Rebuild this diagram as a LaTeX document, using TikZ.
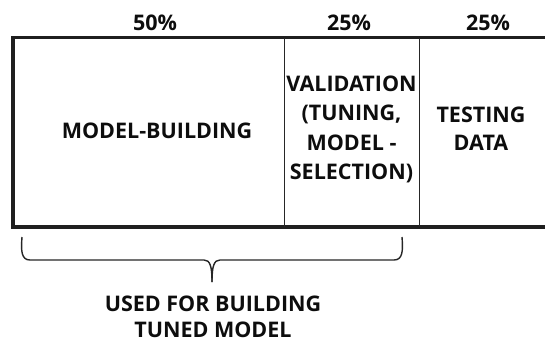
\documentclass[tikz,border=0pt]{standalone}
\usepackage{fontspec}
\setmainfont{Open Sans}
\begin{document}
\begin{tikzpicture}[x=1pt,y=-1pt,
  lbl/.style={font=\fontsize{21.5}{29.5}\selectfont\bfseries, align=center, inner sep=0pt, text=black!95},
  pct/.style={font=\fontsize{21.5}{24}\selectfont\bfseries, inner sep=0pt, text=black!95},
  frame/.style={line width=3.5pt, draw=black!88},
  divider/.style={line width=1.6pt, draw=black!85},
  bracel/.style={line width=1.4pt, draw=black!85}]
\useasboundingbox (0,0) rectangle (545,343);

% outer frame, open on the right side
\coordinate (tr) at (546,37.5);
\coordinate (tl) at (13,37.5);
\coordinate (bl) at (13,227);
\coordinate (br) at (546,227);
\draw[frame] (tr) -- (tl) -- (bl) -- (br);

% cell dividers
\coordinate (d1t) at (284.5,37.5);
\coordinate (d1b) at (284.5,227);
\coordinate (d2t) at (419.5,37.5);
\coordinate (d2b) at (419.5,227);
\draw[divider] (d1t) -- (d1b);
\draw[divider] (d2t) -- (d2b);

% share labels
\node[pct, anchor=base] (p1) at (155,30) {50\%};
\node[pct, anchor=base] (p2) at (349,30) {25\%};
\node[pct, anchor=base] (p3) at (488,30) {25\%};

% cell contents
\node[lbl] (build) at (157,131) {MODEL-BUILDING};
\node[lbl] (valid) at (351.5,129.5) {VALIDATION\\(TUNING,\\MODEL -\\SELECTION)};
\node[lbl, font=\fontsize{21.5}{28}\selectfont\bfseries] (test) at (481,129) {TESTING\\DATA};

% curly brace under the first two cells
\coordinate (bL) at (22,237);
\coordinate (bR) at (402,237);
\coordinate (bT) at (212,282);
\draw[bracel] (bL) .. controls (21,250) and (21,260) .. (30,260)
  -- (204,260) .. controls (210,260) and (212,266) .. (bT);
\draw[bracel] (bR) .. controls (403,250) and (403,260) .. (394,260)
  -- (220,260) .. controls (214,260) and (212,266) .. (bT);

% caption below the brace (base = baseline of its last line)
\node[lbl, font=\fontsize{21.5}{26}\selectfont\bfseries, anchor=base] (used) at (213,337) {USED FOR BUILDING\\TUNED MODEL};
\end{tikzpicture}
\end{document}
